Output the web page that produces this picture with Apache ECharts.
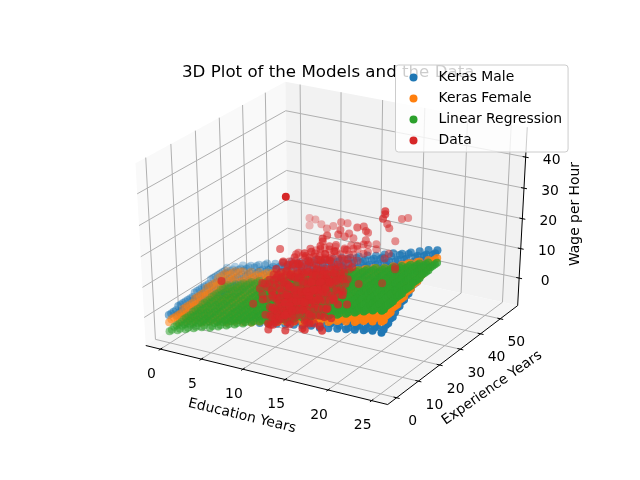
<!DOCTYPE html>
<html><head><meta charset="utf-8">
<style>html,body{margin:0;padding:0;background:#fff}#c{width:640px;height:480px}</style>
<script src="https://cdn.jsdelivr.net/npm/echarts@6/dist/echarts.min.js"></script>
</head><body><div id="c"></div>
<script>
const educationTicks=[0,5,10,15,20,25];
const experienceTicks=[0,10,20,30,40,50];
const wageTicks=[0,10,20,30,40];
const xLim=[-1.25,26.25], yLim=[-2.75,57.75], zLim=[-8.3,48.3];
const gridEducation=[0,1,2,3,4,5,6,7,8,9,10,11,12,13,14,15,16,17,18,19,20,21,22,23,24,25];
const gridExperience=[0,1,2,3,4,5,6,7,8,9,10,11,12,13,14,15,16,17,18,19,20,21,22,23,24,25];
// wage read for each experience row (rows) and education column
const maleWage=[
[0,.5,1,1.5,1.5,2,2.5,3,3.5,4,4.5,4.5,5,5.5,6,6.5,7,7.5,7.5,8,8.5,9,9.5,10,10.5,10.5],
[0,1,1,1,2,2,3,3,4,4,5,5,5,6,6,7,7,8,8,9,9,9,10,10,11,11],
[0,1,1,2,2,3,3,4,4,4,5,5,6,6,7,7,8,8,9,9,10,10,10,11,11,12],
[0,1,1,2,2,3,3,4,4,5,5,6,6,7,7,8,8,9,9,10,10,10,11,11,12,12],
[1,1,2,2,3,3,4,4,5,5,6,6,7,7,7,8,8,9,9,10,10,11,11,12,12,13],
[1,1,2,2,3,3,4,4,5,5,6,6,7,7,8,8,9,9,10,10,11,11,12,12,13,13],
[1,1,2,2,3,3,4,5,5,6,6,7,7,8,8,9,9,10,10,11,11,12,12,13,14,14],
[1,2,2,3,3,4,4,5,5,6,6,7,8,8,9,9,10,10,11,11,12,12,13,14,14,15],
[1,2,2,3,3,4,5,5,6,6,7,7,8,8,9,10,10,11,11,12,12,13,13,14,15,15],
[1,2,2,3,4,4,5,5,6,6,7,8,8,9,9,10,11,11,12,12,13,13,14,15,15,16],
[1,2,3,3,4,4,5,6,6,7,7,8,9,9,10,10,11,12,12,13,13,14,14,15,16,16],
[2,2,3,3,4,5,5,6,6,7,8,8,9,10,10,11,11,12,13,13,14,14,15,16,16,17],
[2,2,3,4,4,5,5,6,7,7,8,9,9,10,10,11,12,12,13,14,14,15,16,16,17,17],
[2,3,3,4,4,5,6,6,7,8,8,9,10,10,11,12,12,13,13,14,15,15,16,17,17,18],
[2,3,3,4,5,5,6,7,7,8,9,9,10,11,11,12,13,13,14,15,15,16,17,17,18,19],
[2,3,4,4,5,6,6,7,8,8,9,10,10,11,12,12,13,14,14,15,16,16,17,18,18,19],
[2,3,4,4,5,6,6,7,8,9,9,10,11,11,12,13,13,14,15,15,16,17,18,18,19,20],
[2,3,4,5,5,6,7,7,8,9,10,10,11,12,12,13,14,14,15,16,17,17,18,19,19,20],
[3,3,4,5,5,6,7,8,8,9,10,11,11,12,13,13,14,15,16,16,17,18,19,19,20,21],
[3,3,4,5,6,6,7,8,9,9,10,11,12,12,13,14,15,15,16,17,18,18,19,20,21,21],
[3,4,4,5,6,7,7,8,9,10,10,11,12,13,13,14,15,16,17,17,18,19,20,20,21,22],
[3,4,5,5,6,7,8,8,9,10,11,12,12,13,14,15,15,16,17,18,19,19,20,21,22,22],
[3,4,5,6,6,7,8,9,10,10,11,12,13,13,14,15,16,17,17,18,19,20,21,21,22,23],
[3,4,5,6,7,7,8,9,10,11,11,12,13,14,15,15,16,17,18,19,19,20,21,22,23,24],
[3,4,5,6,7,8,8,9,10,11,12,13,13,14,15,16,17,17,18,19,20,21,22,22,23,24],
[3.5,4.5,5.5,6,7,8,8.5,9.5,10.5,11,12,13,13.5,14.5,15.5,16,17,18,18.5,19.5,20.5,21,22,23,24,24.5]];
const femaleWage=[
[-2.5,-2,-1,-.5,0,1,1.5,2,3,3.5,4,5,5.5,6,7,7.5,8,9,9.5,10,11,11.5,12,13,13.5,14],
[-2,-2,-1,0,0,1,2,2,3,4,4,5,6,6,7,8,8,9,10,10,11,12,12,13,14,14],
[-2,-1,-1,0,1,1,2,3,3,4,5,5,6,7,7,8,9,9,10,11,11,12,13,13,14,15],
[-2,-1,-1,0,1,1,2,3,4,4,5,6,6,7,8,8,9,10,10,11,12,12,13,14,14,15],
[-2,-1,0,0,1,2,2,3,4,4,5,6,6,7,8,9,9,10,11,11,12,13,13,14,15,15],
[-2,-1,0,1,1,2,3,3,4,5,5,6,7,7,8,9,10,10,11,12,12,13,14,14,15,16],
[-1,-1,0,1,1,2,3,4,4,5,6,6,7,8,8,9,10,10,11,12,13,13,14,15,15,16],
[-1,0,0,1,2,2,3,4,4,5,6,7,7,8,9,9,10,11,11,12,13,14,14,15,16,16],
[-1,0,0,1,2,3,3,4,5,5,6,7,8,8,9,10,10,11,12,13,13,14,15,15,16,17],
[-1,0,1,1,2,3,4,4,5,6,6,7,8,9,9,10,11,11,12,13,14,14,15,16,16,17],
[-1,0,1,2,2,3,4,4,5,6,7,7,8,9,10,10,11,12,12,13,14,15,15,16,17,17],
[0,0,1,2,3,3,4,5,5,6,7,8,8,9,10,11,11,12,13,13,14,15,16,16,17,18],
[0,1,1,1,2,2,3,4,5,5,5,6,7,7,8,9,11,11,12,13,13,14,15,16,16,18],
[0,1,1,1,2,3,3,4,5,6,5,6,7,8,8,9,11,12,12,13,14,15,15,16,17,18],
[0,1,2,1,2,3,4,4,5,6,6,6,7,8,9,9,11,12,13,13,14,15,16,16,17,19],
[0,1,2,2,2,3,4,5,5,6,6,7,7,8,9,10,11,12,13,14,14,15,16,17,17,19],
[1,1,2,2,3,3,4,5,6,5,6,7,8,8,9,10,11,11,12,13,15,15,16,17,18,19],
[1,2,2,2,3,4,4,5,6,6,6,7,8,9,9,10,11,12,12,13,15,16,17,17,18,20],
[1,2,2,2,3,4,5,5,6,6,7,7,8,9,10,10,11,12,13,14,15,16,17,18,18,20],
[1,2,3,2,3,4,5,6,6,6,7,8,8,9,10,11,12,12,13,14,16,16,17,18,19,21],
[1,2,3,3,3,4,5,5,6,6,6,7,8,9,9,10,12,13,13,14,15,16,18,18,19,21],
[2,2,3,3,4,4,5,5,6,7,6,7,8,9,10,10,12,13,14,15,15,16,18,19,19,21],
[2,3,3,3,4,5,5,5,6,7,7,7,8,9,10,11,12,13,14,15,16,16,18,19,20,22],
[2,3,4,3,4,5,6,6,6,7,7,8,9,9,10,11,13,14,14,15,16,17,19,19,20,22],
[2,3,4,4,4,5,6,6,7,7,7,8,9,10,10,11,13,14,15,15,16,17,19,20,20,22],
[2.5,3,3.5,4,4.5,5,5.5,6,6.5,7,7.5,8,8.5,9.5,10.5,11.5,12.5,13.5,14.5,15.2,16.3,17.4,18.5,19.7,20.8,22]];
const lrRows=[
[-5.5,-4.5,-3.5,-2.5,-1.5,-1,0,1,2,3,4,5,5.5,6.5,7.5,8.5,9.5,10.5,11.5,12,13,14,15,16,17,17.5],
[-5,-4,-3,-2,-1,-.5,.5,1.5,2.5,3.5,4.5,5.5,6,7,8,9,10,11,12,12.5,13.5,14.5,15.5,16.5,17.5,18],
[-4.5,-3.5,-2.5,-1.5,-.5,0,1,2,3,4,5,6,6.5,7.5,8.5,9.5,10.5,11.5,12.5,13,14,15,16,17,18,18.5],
[-4,-3,-2,-1,0,.5,1.5,2.5,3.5,4.5,5.5,6.5,7,8,9,10,11,12,13,13.5,14.5,15.5,16.5,17.5,18.5,19],
[-3.5,-2.5,-1.5,-.5,.5,1,2,3,4,5,6,7,7.5,8.5,9.5,10.5,11.5,12.5,13.5,14,15,16,17,18,19,19.5],
[-3,-2,-1,0,1,1.5,2.5,3.5,4.5,5.5,6.5,7.5,8,9,10,11,12,13,14,14.5,15.5,16.5,17.5,18.5,19.5,20],
[-2.5,-1.5,-.5,.5,1.5,2,3,4,5,6,7,8,8.5,9.5,10.5,11.5,12.5,13.5,14.5,15,16,17,18,19,20,20.5]];
const lrRowOfExperience=[0,0,1,1,1,1,2,2,2,2,3,3,3,3,4,4,4,4,5,5,5,5,6,6,6,6];
// Observed workers, by education: [experience, wage]
const dataEdu8=[[14,3.4],[16,5],[18,3.5],[20,7],[22,4],[24,6],[26,5],[28,8],[30,4],[32,6],[35,5],[38,7],[40,4],[45,6],[12,6],[13,9],[15,8],[17,10],[19,9],[21,12],[23,9],[25,8],[27,10],[29,7],[31,9],[33,8],[36,9],[40,8]];
const dataEdu10=[[6,3.5],[8,5],[9,3.4],[10,7],[11,4],[12,6],[13,3.5],[14,8],[15,5],[16,6],[17,4],[18,10],[19,5],[20,7],[22,4],[23,9],[25,5],[27,7],[30,6],[32,4],[35,8],[5,9],[7,12],[8,14],[9,10],[10,13],[11,16],[12,11],[13,14],[14,17],[15,12],[16,15],[17,11],[18,14],[19,16],[20,11],[21,13],[22,10],[24,14],[25,12],[26,11],[28,13],[30,11]];
const dataEdu12=[[0,3],[0,5],[1,4],[1,7],[2,3.5],[2,6],[2,9],[3,4],[3,5],[3,8],[4,3.4],[4,6],[4,7],[4,11],[5,4],[5,5],[5,9],[6,3.4],[6,6],[6,7.5],[6,12],[7,4],[7,5.5],[7,10],[8,3.5],[8,5],[8,8],[8,14],[9,4],[9,6.5],[9,9],[10,3],[10,5],[10,7],[10,12],[11,4.5],[11,8],[12,3.5],[12,6],[12,10],[13,5],[13,7.5],[13,15],[14,4],[14,6],[14,9],[15,4.5],[15,7],[15,11],[16,3.4],[16,6],[16,13],[17,5],[17,8],[18,4],[18,6.5],[18,10],[19,5],[19,12],[20,4],[20,7],[20,9],[21,5.5],[21,14],[22,4],[22,8],[23,6],[23,11],[24,5],[24,7],[25,4.5],[25,9],[26,6],[26,13],[27,5],[28,7],[28,10],[29,4],[30,6],[30,8],[31,11],[32,5],[33,7],[34,6],[35,9],[36,5],[38,7],[40,6],[2,13],[3,16],[4,18],[5,14],[6,17],[7,15],[8,18],[9,13],[10,16],[11,19],[12,14],[13,18],[14,13],[15,17],[16,20],[17,14],[18,16],[19,19],[20,13],[20,17],[21,11],[22,15],[23,18],[24,12],[24,20],[25,14],[26,10],[27,16],[28,13],[29,10],[30,14],[31,9],[32,12],[33,10],[34,9],[35,12],[36,10],[38,11],[40,10]];
const dataEdu14=[[0,4],[1,6],[1,9],[2,5],[3,7],[3,12],[4,5],[5,8],[5,11],[6,6],[7,10],[8,7],[9,5],[10,9],[10,14],[11,7],[12,11],[13,6],[14,10],[15,8],[16,13],[18,7],[20,10],[22,6],[24,9],[0,9],[0,13],[1,15],[2,11],[2,17],[3,9],[4,15],[5,13],[6,18],[7,13],[8,16],[9,12],[10,18],[11,11],[12,16],[13,13],[14,17],[15,12],[16,9],[17,15],[18,12],[19,9],[20,14],[21,11],[22,13],[24,13],[26,10],[28,12]];
const dataEdu16=[[0,6],[1,5],[1,8],[2,7],[2,11],[3,6],[3,9],[4,8],[4,13],[5,5],[5,10],[6,7],[6,12],[7,9],[7,15],[8,6],[8,11],[9,8],[9,13],[10,10],[10,17],[11,7],[11,12],[12,9],[13,14],[14,8],[15,11],[16,13],[17,10],[18,9],[20,12],[22,15],[25,8],[0,12],[1,14],[2,17],[3,15],[4,19],[5,16],[6,20],[7,12],[8,17],[9,19],[10,14],[11,18],[12,15],[13,10],[14,17],[15,14],[16,9],[17,15],[18,13],[19,11],[8,24],[10,25],[12,22],[14,24]];
const dataEdu18=[[0,8],[1,6],[2,10],[3,12],[5,8],[6,14],[8,11],[10,13],[12,9]];
const dataEduOther=[14,4,5,4,6,8,8,10,10,18,18,18,16,16,16,16,16,16,16,14,18,18,18,6,8,8,8,12,12,12,14,14,14,14,14,12,12,12,12,10,12,12,12,12,14,14,14,14,14,14,12,12,12,8,8,8,8,8];
const dataExpOther=[1,48,47,48,46,41,44,40,43,29,29,28,38,39,45,48,42,39,37,41,34,34,28,2,12,11,8,31,32,36,32,35,36,37,36,38,34,24,26,26,27,30,34,37,32,35,37,41,37,35,38,34,23,20,27,28,24,30];
const dataWageOther=[45.8,12,12.5,9.4,12,14,13.5,17.7,16,31,30,29,21.6,19.7,20,19,14,11.3,10.6,12.3,9.7,10.5,8,14,9.7,8.4,4.8,19,20,17,22,21,19,18,16,14.5,17,21,21,15.5,17,16,13,12.6,16,15,14,10.6,11.6,12,9,12.6,19,17,12,12,11,10];

const D2R=Math.PI/180,az=-60*D2R,el=30*D2R,dist=10;
const n=[Math.cos(az)*Math.cos(el),Math.sin(az)*Math.cos(el),Math.sin(el)];
const u=[-n[1],n[0],0].map(v=>v/Math.hypot(n[0],n[1]));
const v=[n[1]*u[2]-n[2]*u[1],n[2]*u[0]-n[0]*u[2],n[0]*u[1]-n[1]*u[0]];
const dot=(a,b)=>a[0]*b[0]+a[1]*b[1]+a[2]*b[2];
function world(w){const p=[w[0]-.5,w[1]-.5,w[2]-.5];const xc=dot(u,p),yc=dot(v,p),zc=dot(n,p)-dist;const W=-zc;
 return {sx:80+(xc/W+.095)/.185*496, sy:427.2-(yc/W+.095)/.185*369.6, depth:W};}
const norm=(d,l)=>(d-l[0])/(l[1]-l[0]);
const project=(x,y,z)=>world([norm(x,xLim),norm(y,yLim),norm(z,zLim)]);
function shaded(pts){const ps=pts.map(p=>project(p[0],p[1],p[2]));const ds=ps.map(p=>p.depth);const lo=Math.min(...ds),hi=Math.max(...ds);
 return ps.map(p=>({value:[p.sx,p.sy],itemStyle:{opacity:1-.7*(p.depth-lo)/(hi-lo||1)}}));}
const surface=(rowOf)=>{const out=[];gridEducation.forEach((e,i)=>gridExperience.forEach((x,k)=>out.push([e,x,rowOf(k)[i]])));return out;};
const E=1/48,A=-E,B=1+E,col=['#1f77b4','#ff7f0e','#2ca02c','#d62728'];
function frameItem(params,api){
 const c=w=>{const p=world(w);return api.coord([p.sx,p.sy]);};
 const ch=[];
 const poly=(ws,f)=>ch.push({type:'polygon',shape:{points:ws.map(c)},style:{fill:f}});
 const line=(a,b,s,w)=>{const p=c(a),q=c(b);ch.push({type:'line',shape:{x1:p[0],y1:p[1],x2:q[0],y2:q[1]},style:{stroke:s,lineWidth:w}});};
 const text=(t,pos,r,fs)=>ch.push({type:'text',x:pos[0],y:pos[1],rotation:r||0,style:{text:t,fill:'#000',font:(fs||13.9)+'px "DejaVu Sans"',align:'center',verticalAlign:'middle'}});
 poly([[A,A,A],[A,B,A],[A,B,B],[A,A,B]],'#f9f9f9');
 poly([[A,B,A],[B,B,A],[B,B,B],[A,B,B]],'#f2f2f2');
 poly([[A,A,A],[B,A,A],[B,B,A],[A,B,A]],'#f5f5f5');
 const G='#b0b0b0',D=.15/12;
 educationTicks.forEach(t=>{const x=norm(t,xLim);line([x,A,A],[x,B,A],G,1);line([x,B,A],[x,B,B],G,1);});
 experienceTicks.forEach(t=>{const y=norm(t,yLim);line([B,y,A],[A,y,A],G,1);line([A,y,A],[A,y,B],G,1);});
 wageTicks.forEach(t=>{const z=norm(t,zLim);line([A,A,z],[A,B,z],G,1);line([A,B,z],[B,B,z],G,1);});
 line([A,A,A],[B,A,A],'#000',1);line([B,A,A],[B,B,A],'#000',1);line([B,B,A],[B,B,B],'#000',1);
 educationTicks.forEach(t=>{const x=norm(t,xLim);line([x,A-D,A],[x,A+D,A],'#000',1);const p=c([x,A,A]);text(String(t),[p[0]-9,p[1]+25]);});
 experienceTicks.forEach(t=>{const y=norm(t,yLim);line([B-D,y,A],[B+D,y,A],'#000',1);const p=c([B,y,A]);text(String(t),[p[0]+16,p[1]+24]);});
 wageTicks.forEach(t=>{const z=norm(t,zLim);line([B-D,B,z],[B+D,B,z],'#000',1);const p=c([B,B,z]);text(String(t),[p[0]+26,p[1]+3]);});
 text('Education Years',api.coord([242,416]),-13.5*D2R);
 text('Experience Years',api.coord([492,388]),35*D2R);
 text('Wage per Hour',api.coord([575,214]),Math.PI/2);
 return {type:'group',children:ch};
}
const scatter=(name,data,i)=>({name,type:'scatter',data,symbolSize:8,color:col[i],itemStyle:{color:col[i]},silent:true,animation:false,clip:false,progressive:0,large:false,z:3});
const red=[];
[[8,dataEdu8],[10,dataEdu10],[12,dataEdu12],[14,dataEdu14],[16,dataEdu16],[18,dataEdu18]].forEach(g=>g[1].forEach(p=>red.push([g[0],p[0],p[1]])));
dataEduOther.forEach((e,i)=>red.push([e,dataExpOther[i],dataWageOther[i]]));
const legendNames=['Keras Male','Keras Female','Linear Regression','Data'];
const chart=echarts.init(document.getElementById('c'),null,{renderer:'canvas'});
chart.setOption({animation:false,backgroundColor:'#fff',
 title:{text:'3D Plot of the Models and the Data',left:182,top:64,padding:0,z:2,textStyle:{fontFamily:'DejaVu Sans',fontSize:16.67,fontWeight:'normal',color:'#000'}},
 legend:{orient:'vertical',left:395.5,top:65,z:20,padding:[5.5,6,4.5,14],itemWidth:8,itemHeight:8,itemGap:7,icon:'circle',backgroundColor:'rgba(255,255,255,.8)',borderColor:'#ccc',borderWidth:1,borderRadius:3,
  data:legendNames.map(name=>({name,itemStyle:{opacity:1}})),textStyle:{fontFamily:'DejaVu Sans',fontSize:13.9,color:'#000',padding:[0,0,0,16]},selectedMode:false},
 grid:{left:0,right:0,top:0,bottom:0},
 xAxis:{type:'value',min:0,max:640,show:false},
 yAxis:{type:'value',min:0,max:480,inverse:true,show:false},
 series:[{type:'custom',coordinateSystem:'cartesian2d',data:[[0,0]],renderItem:frameItem,silent:true,z:1,clip:false},
  scatter(legendNames[0],shaded(surface(k=>maleWage[k])),0),
  scatter(legendNames[1],shaded(surface(k=>femaleWage[k])),1),
  scatter(legendNames[2],shaded(surface(k=>lrRows[lrRowOfExperience[k]])),2),
  scatter(legendNames[3],shaded(red),3)]});
</script></body></html>
